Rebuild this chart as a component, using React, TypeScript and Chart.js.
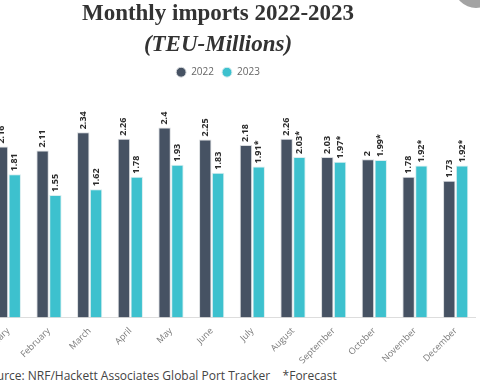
import React, { useEffect, useRef } from "react";
import { Chart, registerables } from "chart.js";

Chart.register(...registerables);

const months = [
  "January", "February", "March", "April", "May", "June",
  "July", "August", "September", "October", "November", "December",
];
const imports2022 = [2.16, 2.11, 2.34, 2.26, 2.4, 2.25, 2.18, 2.26, 2.03, 2, 1.78, 1.73];
const imports2023 = [1.81, 1.55, 1.62, 1.78, 1.93, 1.83, 1.91, 2.03, 1.97, 1.99, 1.92, 1.92];
const forecast2023 = [false, false, false, false, false, false, true, true, true, true, true, true];
const seriesNames = ["2022", "2023"];

const COLOR_2022 = "#465263";
const COLOR_2023 = "#3dc1ce";

const labelPlugin = {
  id: "barLabels",
  afterDatasetsDraw(chart: any) {
    const ctx = chart.ctx;
    chart.data.datasets.forEach((ds: any, di: number) => {
      const meta = chart.getDatasetMeta(di);
      meta.data.forEach((bar: any, i: number) => {
        const v = ds.data[i];
        const txt = String(v) + (di === 1 && forecast2023[i] ? "*" : "");
        ctx.save();
        ctx.translate(bar.x, bar.y - 3);
        ctx.rotate(-Math.PI / 2);
        ctx.font = "bold 9px 'Open Sans'";
        ctx.fillStyle = "#2b2b2b";
        ctx.textAlign = "left";
        ctx.textBaseline = "middle";
        ctx.fillText(txt, 0, 0);
        ctx.restore();
      });
    });
  },
};

export default function App() {
  const ref = useRef<HTMLCanvasElement>(null);
  useEffect(() => {
    const chart = new Chart(ref.current!, {
      type: "bar",
      data: {
        labels: months,
        datasets: [
          {
            label: seriesNames[0],
            data: imports2022,
            backgroundColor: COLOR_2022,
            borderColor: "#d9dcdf",
            borderWidth: 1,
            categoryPercentage: 0.63,
            barPercentage: 0.97,
          },
          {
            label: seriesNames[1],
            data: imports2023,
            backgroundColor: COLOR_2023,
            borderColor: "#d9eef0",
            borderWidth: 1,
            categoryPercentage: 0.63,
            barPercentage: 0.97,
          },
        ],
      },
      options: {
        responsive: false,
        animation: false,
        layout: { padding: 0 },
        scales: {
          y: {
            display: true,
            min: 0,
            max: 2.91,
            grid: { display: false },
            border: { display: false },
            ticks: { display: false },
            afterFit: (scale: any) => {
              scale.width = 28;
            },
          },
          x: {
            grid: { display: false },
            border: { display: true, color: "#dddddd" },
            ticks: {
              minRotation: 45,
              maxRotation: 45,
              color: "#7a7a7a",
              font: { family: "'Open Sans'", size: 9 },
              padding: 0,
            },
          },
        },
        plugins: {
          title: {
            display: true,
            text: "Monthly imports 2022-2023",
            color: "#333333",
            font: { family: "'Liberation Serif'", size: 23, weight: "bold" },
            padding: { top: 0, bottom: 4 },
          },
          subtitle: {
            display: true,
            text: "(TEU-Millions)",
            color: "#333333",
            font: { family: "'Liberation Serif'", size: 23, weight: "bold", style: "italic" },
            padding: { top: 0, bottom: 0 },
          },
          legend: {
            display: true,
            labels: {
              usePointStyle: true,
              pointStyle: "circle",
              boxWidth: 10,
              boxHeight: 7,
              color: "#666666",
              font: { family: "'Open Sans'", size: 10 },
              padding: 8,
            },
          },
          tooltip: { enabled: false },
        },
      },
      plugins: [labelPlugin],
    });
    return () => chart.destroy();
  }, []);

  return (
    <div
      style={{
        position: "fixed",
        left: 0,
        top: 0,
        width: 480,
        height: 384,
        overflow: "hidden",
        background: "#ffffff",
      }}
    >
      <canvas
        ref={ref}
        width={516}
        height={366}
        style={{ position: "absolute", left: -40, top: 0, width: 516, height: 366 }}
      />
      <div
        style={{
          position: "absolute",
          left: -17,
          top: 368,
          whiteSpace: "pre",
          fontFamily: "'Open Sans'",
          fontSize: 12,
          color: "#444444",
          lineHeight: "15px",
        }}
      >
        {"Source: NRF/Hackett Associates Global Port Tracker    *Forecast"}
      </div>
      <div
        style={{
          position: "absolute",
          left: 454,
          top: -36,
          width: 44,
          height: 44,
          borderRadius: "50%",
          background: "#a3a3a3",
        }}
      />
    </div>
  );
}
